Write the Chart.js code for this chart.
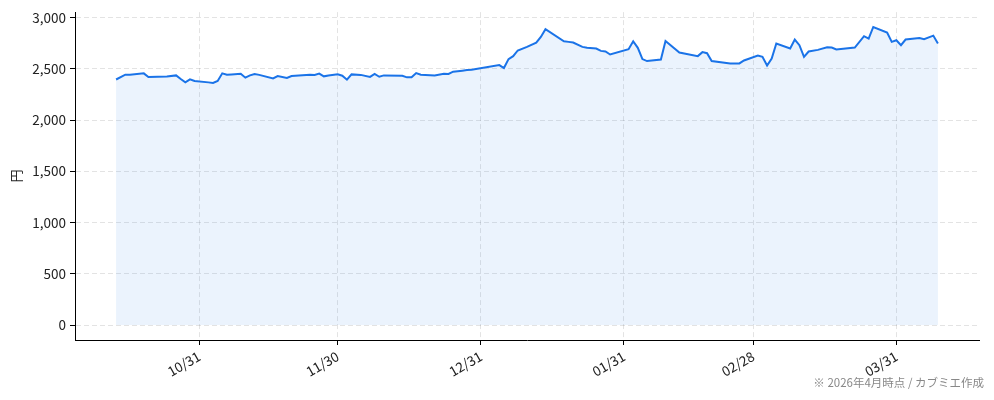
<!DOCTYPE html>
<html><head><meta charset="utf-8">
<script src="https://cdn.jsdelivr.net/npm/chart.js@4/dist/chart.umd.min.js"></script>
<style>html,body{margin:0;padding:0;background:#fff}#wrap{width:994px;height:400px}</style>
</head><body><div id="wrap"><canvas id="c" width="994" height="400"></canvas></div>
<script>
const dates = [
'2025-10-13','2025-10-15','2025-10-16','2025-10-19','2025-10-20','2025-10-22','2025-10-24','2025-10-26','2025-10-27','2025-10-28','2025-10-29','2025-10-30',
'2025-11-02','2025-11-03','2025-11-04','2025-11-05','2025-11-06','2025-11-07','2025-11-09','2025-11-10','2025-11-11','2025-11-12','2025-11-13','2025-11-16','2025-11-17','2025-11-19','2025-11-20','2025-11-24','2025-11-25','2025-11-26','2025-11-27','2025-11-28','2025-11-30',
'2025-12-01','2025-12-02','2025-12-03','2025-12-05','2025-12-07','2025-12-08','2025-12-09','2025-12-10','2025-12-14','2025-12-15','2025-12-16','2025-12-17','2025-12-18','2025-12-21','2025-12-23','2025-12-24','2025-12-25','2025-12-27','2025-12-28','2025-12-29',
'2026-01-04','2026-01-05','2026-01-06','2026-01-07','2026-01-08','2026-01-10','2026-01-12','2026-01-13','2026-01-14','2026-01-18','2026-01-19','2026-01-20','2026-01-22','2026-01-23','2026-01-25','2026-01-26','2026-01-27','2026-01-28',
'2026-02-01','2026-02-02','2026-02-03','2026-02-04','2026-02-05','2026-02-08','2026-02-09','2026-02-12','2026-02-16','2026-02-17','2026-02-18','2026-02-19','2026-02-23','2026-02-25','2026-02-26',
'2026-03-01','2026-03-02','2026-03-03','2026-03-04','2026-03-05','2026-03-08','2026-03-09','2026-03-10','2026-03-11','2026-03-12','2026-03-14','2026-03-16','2026-03-17','2026-03-18','2026-03-22','2026-03-24','2026-03-25','2026-03-26','2026-03-29','2026-03-30','2026-03-31',
'2026-04-01','2026-04-02','2026-04-05','2026-04-06','2026-04-08','2026-04-09'
];
const prices = [
2395,2442,2442,2455,2420,2422,2425,2435,2400,2367,2397,2380,
2367,2362,2380,2455,2442,2445,2452,2413,2435,2449,2440,2406,2429,2410,2429,2442,2439,2452,2426,2435,2445,
2432,2393,2445,2440,2420,2449,2422,2435,2432,2416,2416,2458,2442,2435,2452,2449,2471,2481,2487,2490,
2536,2507,2594,2623,2678,2713,2755,2810,2885,2768,2762,2755,2713,2704,2697,2674,2668,2639,
2691,2768,2704,2594,2575,2590,2771,2658,2623,2662,2652,2575,2552,2552,2581,
2629,2616,2532,2600,2746,2697,2784,2730,2616,2668,2684,2710,2707,2688,2706,2817,2794,2907,2852,2762,2778,
2730,2785,2800,2788,2823,2746
];
const xTickDates = ['2025-10-31','2025-11-30','2025-12-31','2026-01-31','2026-02-28','2026-03-31'];
const yTickValues = [0,500,1000,1500,2000,2500,3000];
const yAxisTitle = '円';
const footnote = '※ 2026年4月時点 / カブミエ作成';

function dayNum(s){const p=s.split('-').map(Number);return Date.UTC(p[0],p[1]-1,p[2])/86400000;}
function fmt(v){const d=new Date(v*86400000);return String(d.getUTCMonth()+1).padStart(2,'0')+'/'+String(d.getUTCDate()).padStart(2,'0');}

const pts = dates.map((d,i)=>({x:dayNum(d),y:prices[i]}));
const xs = pts.map(p=>p.x);
const x0=Math.min(...xs), x1=Math.max(...xs), xm=(x1-x0)*0.05;
const yMaxData=Math.max(...prices), ym=yMaxData*0.05;
const FONT="'Noto Sans CJK JP','Noto Sans',sans-serif";

const footPlugin={id:'foot',afterDraw(chart){const c=chart.ctx;c.save();c.font='11.5px '+FONT;c.fillStyle='#888';c.textAlign='right';c.textBaseline='middle';c.fillText(footnote,984,383);c.restore();}};

new Chart(document.getElementById('c'),{
  type:'line',
  data:{datasets:[{data:pts,borderColor:'#1a73e8',backgroundColor:'rgba(26,115,232,0.085)',borderWidth:2,pointRadius:0,tension:0,fill:'origin'}]},
  options:{
    responsive:false,animation:false,devicePixelRatio:1,
    layout:{padding:{top:11,right:15,left:0,bottom:0}},
    plugins:{legend:{display:false},tooltip:{enabled:false}},
    scales:{
      x:{type:'linear',min:x0-xm,max:x1+xm,
        afterBuildTicks(s){s.ticks=xTickDates.map(d=>({value:dayNum(d)}));},
        afterFit(s){s.height=60;},
        ticks:{autoSkip:false,minRotation:30,maxRotation:30,padding:3,color:'#222',font:{family:FONT,size:13.5},callback:v=>fmt(v)},
        grid:{color:'rgba(0,0,0,0.11)',tickColor:'#000',tickLength:5,tickWidth:1},
        border:{color:'#000',width:1,dash:[5,3]}
      },
      y:{min:-ym,max:yMaxData+ym,
        afterBuildTicks(s){s.ticks=yTickValues.map(v=>({value:v}));},
        afterFit(s){s.width=75;},
        title:{display:true,text:yAxisTitle,color:'#222',font:{family:FONT,size:13},padding:{top:8,bottom:0}},
        ticks:{padding:4,color:'#222',font:{family:FONT,size:13.5},callback:v=>v.toLocaleString('en-US')},
        grid:{color:'rgba(0,0,0,0.11)',tickColor:'#000',tickLength:5,tickWidth:1},
        border:{color:'#000',width:1,dash:[5,3]}
      }
    }
  },
  plugins:[footPlugin]
});
</script></body></html>
